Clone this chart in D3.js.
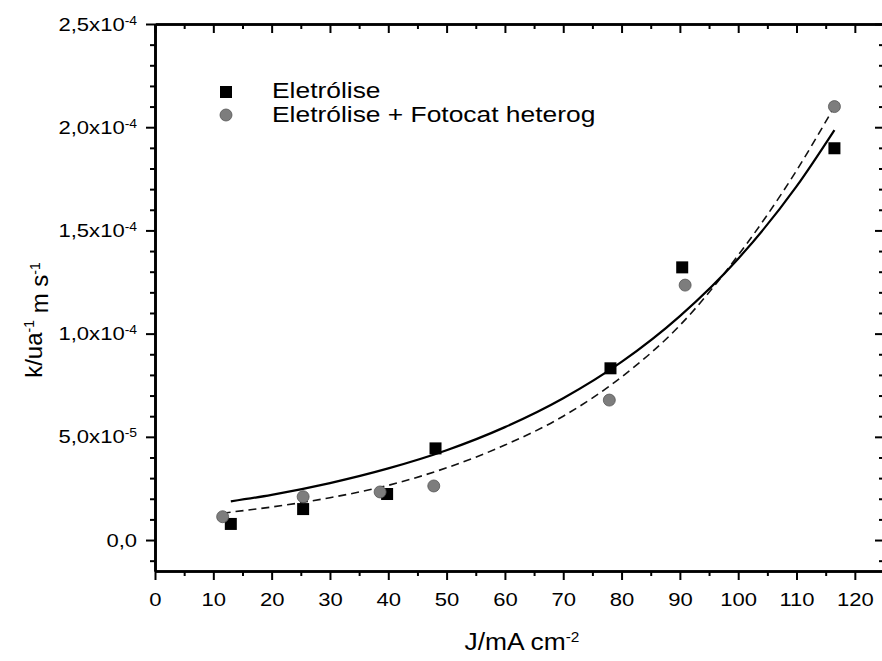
<!DOCTYPE html>
<meta charset="utf-8">
<style>
body { margin: 0; background: #fff; }
text { font-family: "Liberation Sans", Arial, sans-serif; fill: #000; }
.axis path.domain { stroke: #000; stroke-width: 2.6; }
.axis line { stroke: #000; stroke-width: 2; }
</style>
<body>
<script src="https://d3js.org/d3.v7.min.js"></script>
<script>

// values
var jEletrolise = [13.0, 25.4, 39.8, 48.1, 78.1, 90.4, 116.5];
var kEletrolise = [7.8e-6, 1.5e-5, 2.23e-5, 4.44e-5, 8.32e-5, 1.321e-4, 1.898e-4];
var jFotocat = [11.6, 25.4, 38.6, 47.8, 77.9, 90.9, 116.5];
var kFotocat = [1.13e-5, 2.1e-5, 2.33e-5, 2.62e-5, 6.78e-5, 1.235e-4, 2.10e-4];

// fitted curves (solid = Eletrólise, dashed = + Fotocat)
var fitJ = [11.6, 13, 20, 30, 40, 50, 60, 70, 80, 90, 100, 110, 116.5];
var fitEletrolise = [null, 1.87e-5, 2.19e-5, 2.76e-5, 3.47e-5, 4.35e-5, 5.47e-5, 6.87e-5, 8.63e-5, 1.085e-4, 1.363e-4, 1.713e-4, 1.986e-4];
var fitFotocat = [1.3e-5, 1.35e-5, 1.6e-5, 2.05e-5, 2.65e-5, 3.5e-5, 4.6e-5, 6.0e-5, 7.9e-5, 1.04e-4, 1.38e-4, 1.79e-4, 2.1e-4];

var xTicks = [0, 10, 20, 30, 40, 50, 60, 70, 80, 90, 100, 110, 120];
var xMinor = [5, 15, 25, 35, 45, 55, 65, 75, 85, 95, 105, 115];
var yTicks = [0, 5e-5, 1e-4, 1.5e-4, 2e-4, 2.5e-4];
var yMantissa = ["0,0", "5,0", "1,0", "1,5", "2,0", "2,5"];
var yExponent = [null, "-5", "-4", "-4", "-4", "-4"];
var yMinor = [-1e-5, 1e-5, 2e-5, 3e-5, 4e-5, 6e-5, 7e-5, 8e-5, 9e-5, 1.1e-4, 1.2e-4, 1.3e-4, 1.4e-4,
              1.6e-4, 1.7e-4, 1.8e-4, 1.9e-4, 2.1e-4, 2.2e-4, 2.3e-4, 2.4e-4];

var seriesNames = ["Eletrólise", "Eletrólise + Fotocat heterog"];

// the scanned original is a bit wider than tall
var sx = 1.16;

var margin = {top: 24, left: 155},
    width = 729,
    height = 547;

var svg = d3.select("body").append("svg")
    .attr("width", 882)
    .attr("height", 661);

var g = svg.append("g")
    .attr("transform", "translate(" + margin.left + "," + margin.top + ")");

var x = d3.scaleLinear().domain([0, 125]).range([0, width]);
var y = d3.scaleLinear().domain([-1.5e-5, 2.5e-4]).range([height, 0]);

// bottom axis
g.append("g").attr("class", "axis")
    .attr("transform", "translate(0," + height + ")")
    .call(d3.axisBottom(x).tickValues(xMinor).tickSize(5).tickSizeOuter(0).tickFormat(""));
var xAx = g.append("g").attr("class", "axis")
    .attr("transform", "translate(0," + height + ")")
    .call(d3.axisBottom(x).tickValues(xTicks).tickSize(9).tickSizeOuter(0).tickPadding(13));
xAx.selectAll("text")
    .style("font-size", "19px")
    .attr("transform", "scale(" + sx + ",1)");

// top axis, ticks pointing in
g.append("g").attr("class", "axis")
    .call(d3.axisTop(x).tickValues(xMinor).tickSize(-5).tickSizeOuter(0).tickFormat(""));
g.append("g").attr("class", "axis")
    .call(d3.axisTop(x).tickValues(xTicks).tickSize(-9).tickSizeOuter(0).tickFormat(""));

// left axis
g.append("g").attr("class", "axis")
    .call(d3.axisLeft(y).tickValues(yMinor).tickSize(5).tickSizeOuter(0).tickFormat(""));
var yAx = g.append("g").attr("class", "axis")
    .call(d3.axisLeft(y).tickValues(yTicks).tickSize(9).tickSizeOuter(0).tickPadding(9));
yAx.selectAll("text")
    .style("font-size", "19px")
    .attr("x", -18 / sx)
    .attr("transform", "scale(" + sx + ",1)")
    .each(function(d, i) {
        var t = d3.select(this).text(null);
        if (yExponent[i] === null) {
            t.text(yMantissa[i]);
        } else {
            t.append("tspan").text(yMantissa[i] + "x10");
            t.append("tspan").attr("dy", "-0.5em").style("font-size", "12px").text(yExponent[i]);
        }
    });

// right axis, ticks pointing in
g.append("g").attr("class", "axis")
    .attr("transform", "translate(" + width + ",0)")
    .call(d3.axisRight(y).tickValues(yMinor).tickSize(-5).tickSizeOuter(0).tickFormat(""));
g.append("g").attr("class", "axis")
    .attr("transform", "translate(" + width + ",0)")
    .call(d3.axisRight(y).tickValues(yTicks).tickSize(-9).tickSizeOuter(0).tickFormat(""));

// fit lines
var solid = d3.line()
    .defined(function(d, i) { return fitEletrolise[i] !== null; })
    .x(function(d) { return x(d); })
    .y(function(d, i) { return y(fitEletrolise[i]); })
    .curve(d3.curveMonotoneX);
var dashed = d3.line()
    .x(function(d) { return x(d); })
    .y(function(d, i) { return y(fitFotocat[i]); })
    .curve(d3.curveMonotoneX);

g.append("path").attr("d", dashed(fitJ))
    .attr("fill", "none").attr("stroke", "#111").attr("stroke-width", 1.6)
    .attr("stroke-dasharray", "8,5");
g.append("path").attr("d", solid(fitJ))
    .attr("fill", "none").attr("stroke", "#000").attr("stroke-width", 2.2);

// points
g.selectAll(".sq").data(jEletrolise).enter().append("rect")
    .attr("class", "sq")
    .attr("x", function(d) { return x(d) - 6; })
    .attr("y", function(d, i) { return y(kEletrolise[i]) - 6; })
    .attr("width", 12).attr("height", 12)
    .attr("fill", "#000");

g.selectAll(".ci").data(jFotocat).enter().append("circle")
    .attr("class", "ci")
    .attr("cx", function(d) { return x(d); })
    .attr("cy", function(d, i) { return y(kFotocat[i]); })
    .attr("r", 6)
    .attr("fill", "#7d7d7d").attr("stroke", "#555").attr("stroke-width", 0.8);

// legend
var legend = svg.append("g").attr("transform", "translate(226,92)");
legend.append("rect").attr("x", -6).attr("y", -6).attr("width", 12).attr("height", 12).attr("fill", "#000");
legend.append("circle").attr("cx", 0).attr("cy", 23).attr("r", 6)
    .attr("fill", "#7d7d7d").attr("stroke", "#555").attr("stroke-width", 0.8);
legend.selectAll(".lt").data(seriesNames).enter().append("text")
    .attr("class", "lt")
    .attr("transform", function(d, i) { return "translate(46," + (5.5 + i * 24.3) + ") scale(1.2,1)"; })
    .style("font-size", "22px")
    .text(function(d) { return d; });

// axis titles
var xt = svg.append("text")
    .attr("transform", "translate(522,650) scale(1.1,1)")
    .style("text-anchor", "middle").style("font-size", "24px");
xt.append("tspan").text("J/mA cm");
xt.append("tspan").attr("dy", "-0.55em").style("font-size", "14px").text("-2");

var yt = svg.append("text")
    .attr("transform", "translate(42,320) rotate(-90)")
    .style("text-anchor", "middle").style("font-size", "24px");
yt.append("tspan").text("k/ua");
yt.append("tspan").attr("dy", "-0.55em").style("font-size", "14px").text("-1");
yt.append("tspan").attr("dy", "0.55em").text(" m s");
yt.append("tspan").attr("dy", "-0.55em").style("font-size", "14px").text("-1");

</script>
</body>
